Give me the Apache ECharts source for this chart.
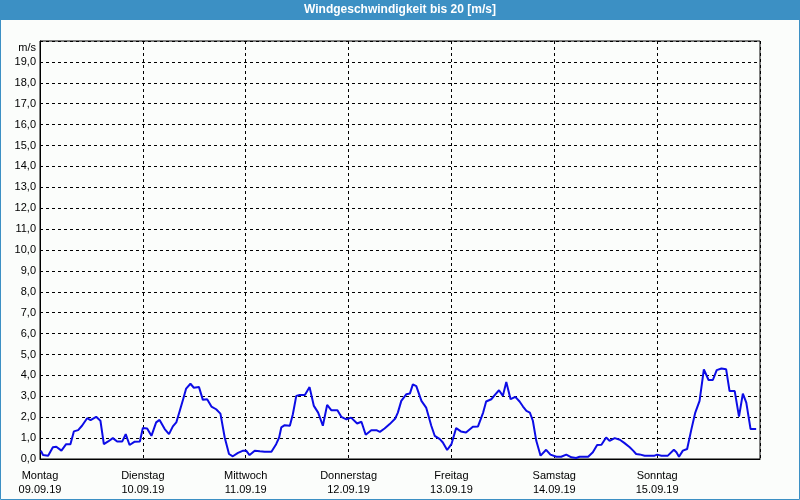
<!DOCTYPE html>
<html>
<head>
<meta charset="utf-8">
<script src="https://cdn.jsdelivr.net/npm/echarts@6/dist/echarts.min.js"></script>
<style>html,body{margin:0;padding:0;background:#fbfdfb;}#c{width:800px;height:500px;}</style>
</head>
<body>
<div id="c"></div>
<script>
const titleText = 'Windgeschwindigkeit bis 20 [m/s]';
const dayNames = ['Montag','Dienstag','Mittwoch','Donnerstag','Freitag','Samstag','Sonntag'];
const dayDates = ['09.09.19','10.09.19','11.09.19','12.09.19','13.09.19','14.09.19','15.09.19'];
const yUnit = 'm/s';
// hours since Monday 09.09.19 00:00
const hours = [0.2,0.7,1.9,3.0,3.8,5.0,6.1,7.1,7.9,8.9,
  9.8,11.0,11.8,13.1,14.1,14.9,15.9,17.0,18.0,19.2,
  20.0,20.9,22.1,23.3,24.0,25.0,26.0,27.1,27.9,29.1,
  30.1,31.0,31.8,32.6,33.4,34.1,35.1,35.9,37.1,38.0,
  39.0,40.0,41.1,42.1,43.1,44.1,45.0,46.2,47.4,48.1,
  48.9,50.1,51.3,52.4,54.0,55.1,55.8,56.3,57.1,58.3,
  59.0,59.8,60.6,61.8,62.9,63.9,64.9,66.0,67.0,68.0,
  69.4,70.3,71.5,72.6,74.0,75.0,76.0,77.3,78.5,79.3,
  80.4,81.6,82.9,83.5,84.3,85.5,86.3,87.0,87.8,89.0,
  90.1,91.3,92.1,93.3,94.0,95.0,96.0,97.1,98.2,99.4,
  101.0,102.2,103.4,104.1,105.3,106.3,107.1,108.0,108.8,109.8,
  110.9,111.9,112.7,113.5,114.3,115.0,115.8,116.8,118.1,119.1,
  120.5,121.6,122.8,124.0,125.1,125.9,127.9,129.0,130.0,131.0,
  132.1,132.9,134.1,135.3,136.4,137.6,138.4,139.1,139.9,141.1,
  143.4,144.0,145.0,146.5,147.9,148.5,149.1,150.0,151.0,152.0,
  152.9,153.9,154.9,156.0,157.0,157.9,159.0,160.1,160.9,162.1,
  163.1,164.0,164.8,165.8,167.1];
const speeds = [0.40,0.19,0.16,0.56,0.59,0.40,0.71,0.71,1.32,1.38,
  1.59,1.95,1.86,2.02,1.83,0.71,0.84,1.0,0.84,0.84,
  1.19,0.67,0.83,0.84,1.48,1.46,1.11,1.75,1.87,1.43,
  1.19,1.56,1.75,2.30,2.86,3.37,3.60,3.41,3.44,2.83,
  2.86,2.51,2.38,2.17,1.03,0.24,0.13,0.29,0.40,0.40,
  0.19,0.40,0.37,0.35,0.35,0.71,1.03,1.51,1.62,1.59,
  2.14,3.02,3.06,3.06,3.44,2.54,2.22,1.59,2.59,2.33,
  2.33,2.02,1.90,1.98,1.70,1.78,1.16,1.38,1.38,1.30,
  1.46,1.67,1.94,2.22,2.78,3.10,3.13,3.57,3.49,2.78,
  2.46,1.59,1.11,0.95,0.79,0.43,0.71,1.48,1.32,1.27,
  1.54,1.56,2.22,2.75,2.86,3.10,3.29,3.02,3.68,2.86,
  2.97,2.75,2.51,2.30,2.22,1.83,0.87,0.16,0.44,0.21,
  0.11,0.11,0.21,0.08,0.05,0.11,0.11,0.32,0.67,0.68,
  1.03,0.87,1.0,0.92,0.76,0.56,0.40,0.24,0.22,0.16,
  0.16,0.21,0.16,0.16,0.44,0.32,0.11,0.40,0.48,1.43,
  2.22,2.78,4.29,3.78,3.78,4.25,4.33,4.29,3.25,3.25,
  2.03,3.13,2.70,1.43,1.43];

const FONT = '"Liberation Sans", Arial, sans-serif';
const data = hours.map((h, i) => [h, speeds[i]]);
const chart = echarts.init(document.getElementById('c'), null, {renderer: 'canvas'});
chart.setOption({
  backgroundColor: '#fbfdfb',
  animation: false,
  grid: {left: 40, right: 40, top: 41, bottom: 41, show: true, borderColor: '#000', borderWidth: 1, containLabel: false},
  xAxis: {
    type: 'value', min: 0, max: 168, interval: 24,
    axisLine: {show: true, lineStyle: {color: '#000', width: 1}},
    axisTick: {show: false},
    splitLine: {show: true, lineStyle: {color: '#000', type: [3, 3], width: 1}},
    axisLabel: {
      color: '#000', fontFamily: FONT, fontSize: 11, lineHeight: 14, margin: 10,
      formatter: v => { const i = Math.round(v / 24); return i < dayNames.length ? dayNames[i] + '\n' + dayDates[i] : ''; }
    }
  },
  yAxis: {
    type: 'value', min: 0, max: 20, interval: 1,
    name: yUnit, nameLocation: 'end', nameGap: -7,
    nameTextStyle: {color: '#000', fontFamily: FONT, fontSize: 11, align: 'right', verticalAlign: 'middle', padding: [0, 4, 0, 0]},
    axisLine: {show: true, lineStyle: {color: '#000', width: 1}},
    axisTick: {show: false},
    splitLine: {show: true, lineStyle: {color: '#000', type: [3, 3], width: 1}},
    axisLabel: {
      color: '#000', fontFamily: FONT, fontSize: 11, margin: 4, showMaxLabel: false,
      formatter: v => v >= 20 ? '' : v.toFixed(1).replace('.', ',')
    }
  },
  series: [{
    type: 'line', data: data, showSymbol: false, smooth: false,
    lineStyle: {color: '#0c0ce6', width: 2},
    itemStyle: {color: '#0c0ce6'}
  }],
  graphic: [
    {type: 'rect', shape: {x: 0, y: 0, width: 800, height: 20}, style: {fill: '#3c90c4'}, z: 10},
    {type: 'text', x: 400, y: 10, style: {text: titleText, align: 'center', verticalAlign: 'middle', fill: '#ffffff', font: 'bold 12px ' + FONT}, z: 11},
    {type: 'rect', shape: {x: 0.5, y: 0.5, width: 799, height: 499}, style: {fill: null, stroke: '#3c90c4', lineWidth: 1}, z: 10}
  ]
});
</script>
</body>
</html>
